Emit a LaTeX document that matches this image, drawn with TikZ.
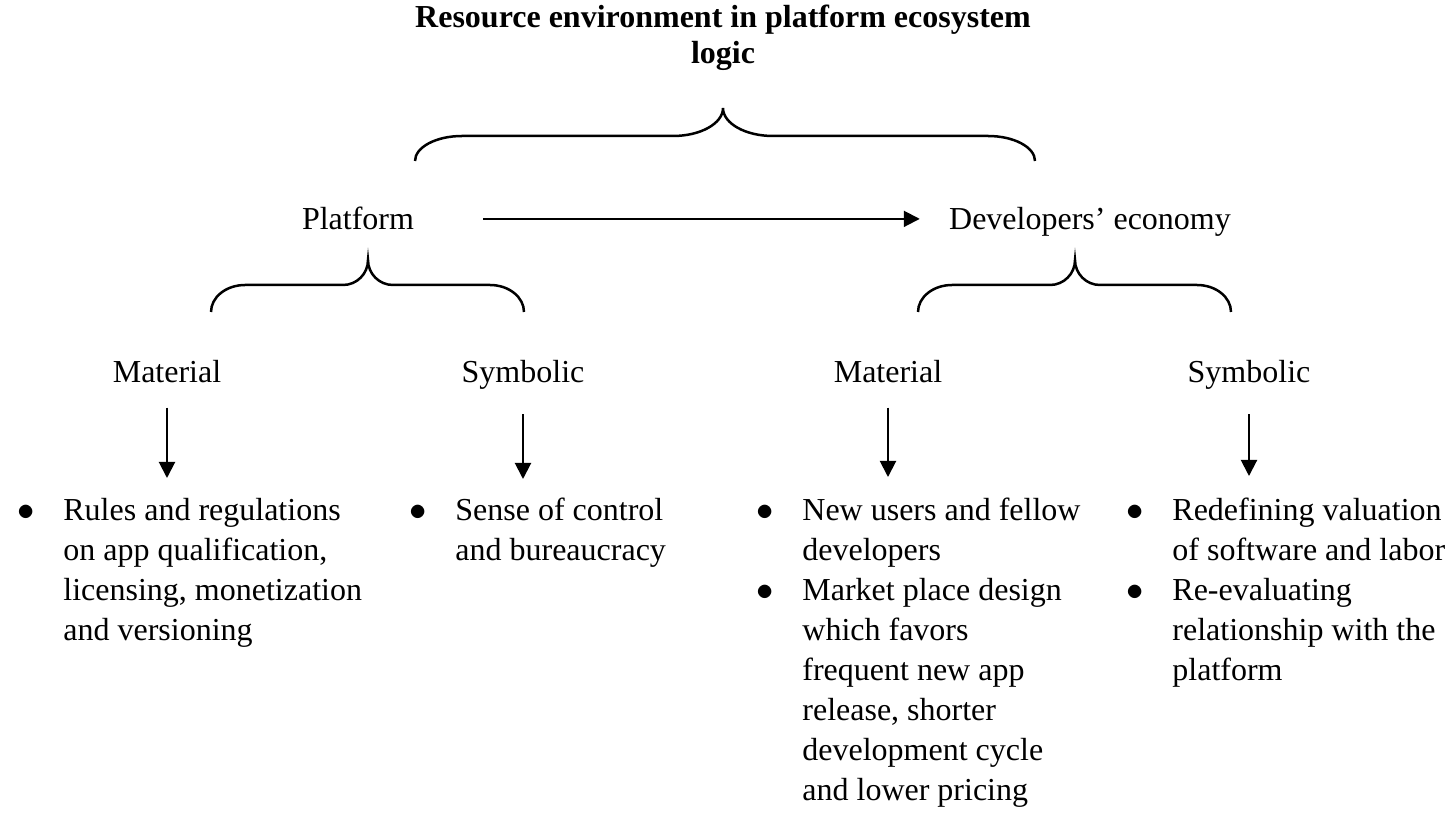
\documentclass[tikz,border=0pt]{standalone}
\usepackage{fontspec}
\setmainfont{Liberation Serif}
\usetikzlibrary{arrows.meta}

% Curly brace opening downwards:
% #1 left x, #2 tip x, #3 right x, #4 y of the ends, #5 y of the flat part,
% #6 y of the tip, #7 width of the end corners, #8 half width of the tip curve
\newcommand{\curlybrace}[8]{%
  \draw[bracestroke] (#1,#4)
    .. controls (#1,{#4-0.552*(#4-#5)}) and ({#1+0.448*#7},#5) .. ({#1+#7},#5)
    -- ({#2-#8},#5)
    .. controls ({#2-0.448*#8},#5) and (#2,{#6+0.552*(#5-#6)}) .. (#2,#6)
    .. controls (#2,{#6+0.552*(#5-#6)}) and ({#2+0.448*#8},#5) .. ({#2+#8},#5)
    -- ({#3-#7},#5)
    .. controls ({#3-0.448*#7},#5) and (#3,{#4-0.552*(#4-#5)}) .. (#3,#4);}

% list bullet
\newcommand{\itembullet}{$\bullet$}

\begin{document}
\begin{tikzpicture}[x=0.5pt,y=-0.5pt,
  txt/.style={font=\fontsize{16}{20}\selectfont, inner sep=0pt},
  lbl/.style={txt, inner xsep=2pt, inner ysep=12pt, anchor=base},
  lst/.style={txt, anchor=base west},
  arr/.style={-{Triangle[length=8pt,width=8pt]}, line width=1pt},
  bracestroke/.style={line width=1.25pt}]

\useasboundingbox (0,0) rectangle (1446,817);

% heading
\node[txt, font=\fontsize{16}{18}\selectfont\bfseries, anchor=base] (title) at (723,28)
  {\begin{tabular}[t]{@{}c@{}}Resource environment in platform ecosystem\\ logic\end{tabular}};

\curlybrace{415}{723}{1035}{161}{136}{108}{47}{50}

% second level
\node[txt, inner xsep=34.5pt, anchor=base] (plat) at (358,230) {Platform};
\node[txt, inner xsep=14.5pt, anchor=base] (dev) at (1090,230) {Developers’ economy};
\draw[arr] (plat.east) -- (plat.east -| dev.west);

\curlybrace{211}{368}{524}{312}{285}{260}{34}{25}
\curlybrace{918}{1075}{1231}{312}{285}{260}{34}{25}

% resource types
\node[lbl] (pm) at (167,383) {Material};
\node[lbl] (ps) at (523,383) {Symbolic};
\node[lbl] (dm) at (888,383) {Material};
\node[lbl] (ds) at (1249,383) {Symbolic};

\coordinate (pmt) at (167,478);
\coordinate (pst) at (523,479);
\coordinate (dmt) at (888,477);
\coordinate (dst) at (1249,476);

\draw[arr] (pm) -- (pmt);
\draw[arr] (ps) -- (pst);
\draw[arr] (dm) -- (dmt);
\draw[arr] (ds) -- (dst);

% bullet lists
\node[lst] (pml) at (17,521) {\begin{tabular}[t]{@{}p{23pt}@{}l@{}}
\itembullet & Rules and regulations\\
 & on app qualification,\\
 & licensing, monetization\\
 & and versioning
\end{tabular}};

\node[lst] (psl) at (409,521) {\begin{tabular}[t]{@{}p{23pt}@{}l@{}}
\itembullet & Sense of control\\
 & and bureaucracy
\end{tabular}};

\node[lst] (dml) at (756,521) {\begin{tabular}[t]{@{}p{23pt}@{}l@{}}
\itembullet & New users and fellow\\
 & developers\\
\itembullet & Market place design\\
 & which favors\\
 & frequent new app\\
 & release, shorter\\
 & development cycle\\
 & and lower pricing
\end{tabular}};

\node[lst] (dsl) at (1126,521) {\begin{tabular}[t]{@{}p{23pt}@{}l@{}}
\itembullet & Redefining valuation\\
 & of software and labor\\
\itembullet & Re-evaluating\\
 & relationship with the\\
 & platform
\end{tabular}};

\end{tikzpicture}
\end{document}
